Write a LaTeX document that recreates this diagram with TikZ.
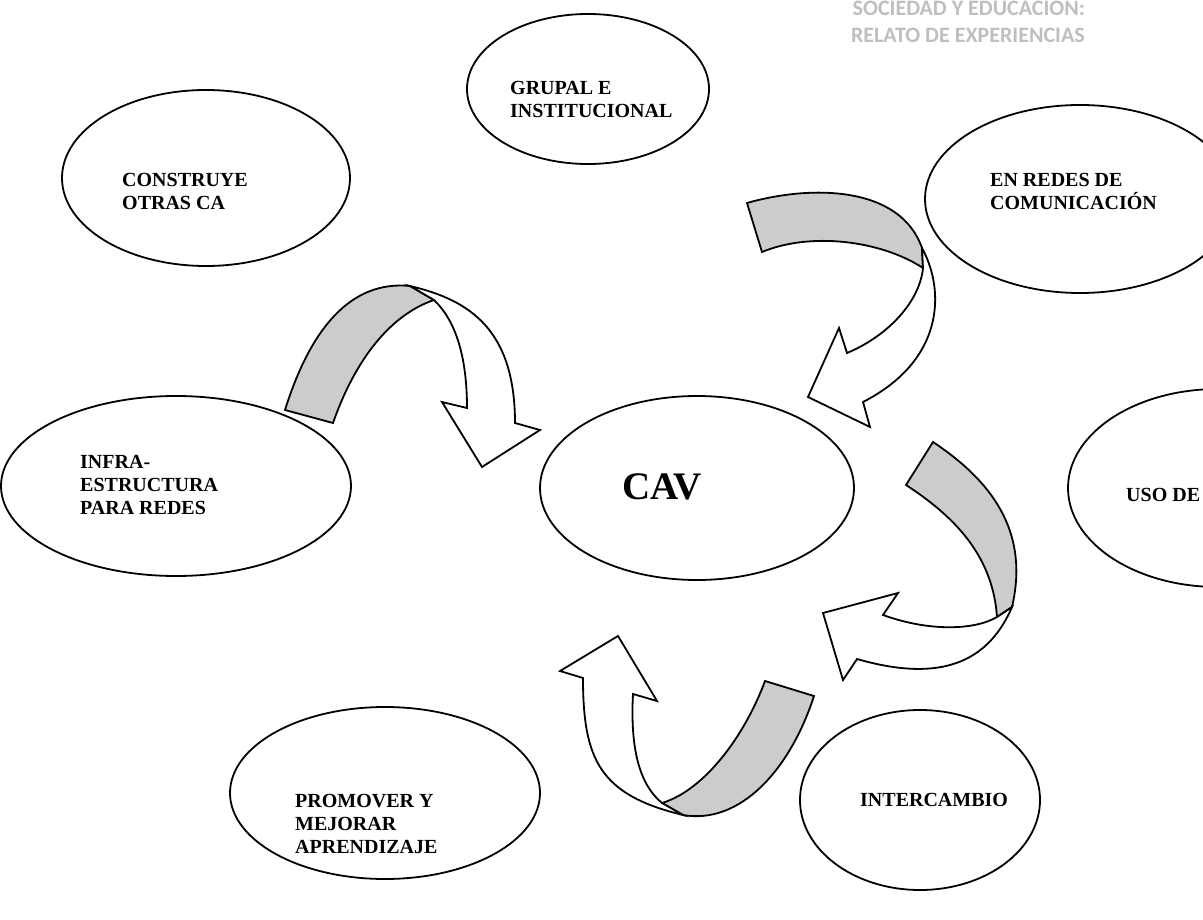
\documentclass[tikz,border=0pt]{standalone}
\usepackage{fontspec}
\setmainfont{Liberation Serif}
\newfontfamily\hdrfont{Carlito}
\usetikzlibrary{shapes.geometric}
\definecolor{bandgray}{RGB}{204,204,204}
\definecolor{hdrgray}{RGB}{191,191,191}
\begin{document}
\begin{tikzpicture}[x=1pt,y=-1pt,
  bubble/.style={ellipse, draw, line width=1.8pt, inner sep=0pt},
  lbl/.style={font=\bfseries\fontsize{20}{23}\selectfont, align=left, anchor=north west, inner sep=0pt},
  backband/.style={draw, line width=1.8pt, fill=bandgray},
  frontband/.style={draw, line width=1.8pt, fill=white}]
\useasboundingbox (0,0) rectangle (1203,920);
\clip (0,0) rectangle (1203,920);
\fill[white] (0,0) rectangle (1203,920);

% header
\node[anchor=north east, align=right, inner sep=0pt, text=hdrgray,
  font=\hdrfont\bfseries\fontsize{22}{27}\selectfont] (hdr) at (1085,1)
  {SOCIEDAD Y EDUCACION:\\RELATO DE EXPERIENCIAS};

% ellipses
\node[bubble, minimum width=242pt, minimum height=150pt] (grupal) at (588,89) {};
\node[bubble, minimum width=288pt, minimum height=176pt] (construye) at (206,178) {};
\node[bubble, minimum width=310pt, minimum height=188pt] (redes) at (1080,199) {};
\node[bubble, minimum width=350pt, minimum height=180pt] (infra) at (176,486) {};
\node[bubble, minimum width=314pt, minimum height=184pt] (cav) at (697,488) {};
\node[bubble, minimum width=300pt, minimum height=198pt] (uso) at (1218,488) {};
\node[bubble, minimum width=310pt, minimum height=172pt] (promover) at (385,793) {};
\node[bubble, minimum width=240pt, minimum height=180pt] (intercambio) at (920,800) {};

% labels
\node[lbl] (tgrupal) at (510,81) {GRUPAL E\\INSTITUCIONAL};
\node[lbl] (tconstruye) at (122,173) {CONSTRUYE\\OTRAS CA};
\node[lbl] (tredes) at (990,173) {EN REDES DE\\COMUNICACIÓN};
\node[lbl] (tinfra) at (80,455) {INFRA-\\ESTRUCTURA\\PARA REDES};
\node[font=\bfseries\fontsize{39}{44}\selectfont, inner sep=0pt] (tcav) at (662,487) {CAV};
\node[lbl] (tuso) at (1126,488) {USO DE};
\node[lbl] (tpromover) at (295,794) {PROMOVER Y\\MEJORAR\\APRENDIZAJE};
\node[lbl] (tintercambio) at (860,793) {INTERCAMBIO};

% arrow A (top-left)
\draw[backband] (285,410) .. controls (310,330) and (350,280) .. (410,286)
  -- (434,300) .. controls (390,315) and (355,360) .. (333,423) -- cycle;
\draw[frontband] (410,286) .. controls (470,300) and (515,330) .. (515,423)
  -- (540,430) -- (482,467) -- (442,402) -- (467,408)
  .. controls (467,355) and (455,320) .. (434,300) -- cycle;

% arrow B (top-right)
\draw[backband] (747,203) .. controls (810,185) and (900,185) .. (922,248)
  -- (923,268) .. controls (880,240) and (810,232) .. (762,252) -- cycle;
\draw[frontband] (922,248) .. controls (945,290) and (945,360) .. (863,402)
  -- (870,427) -- (808,397) -- (839,328) -- (847,353)
  .. controls (890,335) and (920,300) .. (923,268) -- cycle;

% arrow C (right)
\draw[backband] (933,442) .. controls (990,480) and (1030,530) .. (1012,607)
  -- (997,617) .. controls (993,560) and (960,520) .. (906,485) -- cycle;
\draw[frontband] (1012,607) .. controls (985,670) and (930,680) .. (857,659)
  -- (843,680) -- (823,613) -- (898,593) -- (883,615)
  .. controls (930,632) and (975,630) .. (997,617) -- cycle;

% arrow D (bottom)
\draw[backband] (814,696) .. controls (790,770) and (740,825) .. (683,815)
  -- (662,803) .. controls (705,790) and (745,735) .. (765,681) -- cycle;
\draw[frontband] (683,815) .. controls (600,795) and (583,760) .. (583,678)
  -- (560,671) -- (618,636) -- (657,701) -- (633,694)
  .. controls (630,750) and (640,785) .. (662,803) -- cycle;
\end{tikzpicture}
\end{document}
